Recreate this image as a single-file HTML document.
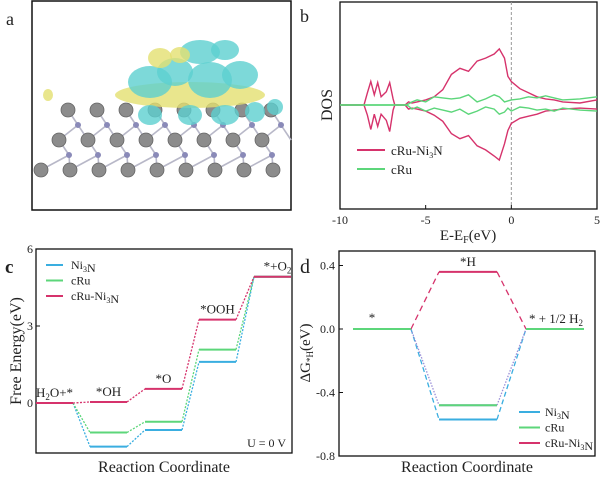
<!DOCTYPE html>
<html><head><meta charset="utf-8"><style>
body{margin:0;background:#fff;width:600px;height:477px;overflow:hidden;font-family:"Liberation Serif",serif}
svg text{font-family:"Liberation Serif",serif;fill:#222}
</style></head><body>
<svg id="fig" width="600" height="477" viewBox="0 0 600 477">
<g>
<text x="6" y="25" font-size="18">a</text>
<rect x="32" y="1" width="259" height="209" fill="#fff" stroke="#111" stroke-width="1.5"/>
<g id="struct"></g>
</g>
<g>
<text x="300" y="22" font-size="18">b</text>
<rect x="340" y="2" width="257" height="207" fill="none" stroke="#111" stroke-width="1.3"/>
<g id="dos"></g>
<text x="0" y="0" font-size="16" transform="translate(332,105) rotate(-90)" text-anchor="middle">DOS</text>
<text x="468" y="240" font-size="15" text-anchor="middle">E-E<tspan font-size="10" dy="3">F</tspan><tspan dy="-3">(eV)</tspan></text>
<line x1="357" y1="150" x2="385" y2="150" stroke="#d6336c" stroke-width="2"/>
<text x="391" y="155" font-size="13">cRu-Ni<tspan font-size="8" dy="3">3</tspan><tspan dy="-3">N</tspan></text>
<line x1="357" y1="169" x2="385" y2="169" stroke="#5cd67a" stroke-width="2"/>
<text x="391" y="174" font-size="13">cRu</text>
</g>
<g>
<rect x="36" y="249" width="256" height="204" fill="none" stroke="#111" stroke-width="1.3"/>
<text x="5" y="273" font-size="19" font-weight="bold">c</text>
<g id="oer"></g>
<text x="0" y="0" font-size="16" transform="translate(21,351) rotate(-90)" text-anchor="middle">Free Energy(eV)</text>
<text x="164" y="472" font-size="16" text-anchor="middle">Reaction Coordinate</text>
<text x="286" y="447" font-size="12" text-anchor="end">U = 0 V</text>
</g>
<g>
<rect x="339" y="251" width="256" height="205" fill="none" stroke="#111" stroke-width="1.3"/>
<text x="300" y="273" font-size="20">d</text>
<g id="her"></g>
<text x="0" y="0" font-size="15" transform="translate(310,353) rotate(-90)" text-anchor="middle">ΔG<tspan font-size="9" dy="3">*H</tspan><tspan dy="-3">(eV)</tspan></text>
<text x="467" y="472" font-size="16" text-anchor="middle">Reaction Coordinate</text>
</g>
</svg>
<script>
// ---------- DOS data (panel b) ----------
const dosEnergy = [-10,-8.6,-8.4,-8.2,-8.0,-7.8,-7.6,-7.3,-7.1,-6.9,-6.8,-6.2,-6.0,-5.8,-5.5,-5.0,-4.5,-4.0,-3.5,-3.0,-2.5,-2.0,-1.5,-1.0,-0.7,-0.4,-0.2,0,0.5,1.0,1.5,2.0,2.5,3.0,4.0,5.0];
const dosRedUp   = [0,0,1.2,2.3,1.0,2.2,0.8,1.3,2.2,0.6,0,0,0.3,0.2,0.3,0.5,0.8,1.5,3.0,3.6,3.3,4.3,4.6,5.0,5.5,4.6,2.8,2.3,1.6,1.2,0.8,0.6,0.5,0.3,0.2,0.5];
const dosRedDown = [0,0,1.0,2.4,0.9,2.1,0.9,1.5,2.6,0.5,0,0,0.4,0.3,0.4,0.6,1.0,1.6,2.8,3.3,3.0,4.0,4.4,5.0,5.4,3.8,2.5,1.8,1.3,1.1,0.9,0.6,0.5,0.4,0.3,0.4];
const dosGreenUp   = [0,0,0,0,0,0,0,0,0,0,0,0,0.1,0.3,0.5,0.3,0.8,0.7,0.6,0.7,1.0,0.3,0.6,1.0,0.8,0.3,0.4,0.5,0.6,0.8,0.7,0.9,0.7,0.5,0.6,0.8];
const dosGreenDown = [0,0,0,0,0,0,0,0,0,0,0,0,0.1,0.4,0.2,0.6,0.3,0.5,0.7,0.4,0.9,0.6,0.2,0.4,0.9,0.7,0.3,0.6,0.2,0.3,0.5,0.4,0.6,0.3,0.5,0.6];
const dosXTicks = [-10,-5,0,5];
// ---------- OER data (panel c) ----------
const oerSteps = ["H2O+*","*OH","*O","*OOH","*+O2"];
const oerNi3N = [0,-1.7,-1.05,1.6,4.92];
const oerCRu = [0,-1.15,-0.73,2.08,4.92];
const oerCRuNi3N = [0,0.04,0.55,3.25,4.92];
const oerYTicks = [0,3,6];
// ---------- HER data (panel d) ----------
const herSteps = ["*","*H","* + 1/2 H2"];
const herNi3N = [0,-0.57,0];
const herCRu = [0,-0.48,0];
const herCRuNi3N = [0,0.36,0];
const herYTicks = [0.4,0.0,-0.4,-0.8];

const NS="http://www.w3.org/2000/svg";
function mk(parent,tag,attrs){const e=document.createElementNS(NS,tag);for(const k in attrs)e.setAttribute(k,attrs[k]);parent.appendChild(e);return e;}

// ----- panel b -----
const dos=document.getElementById('dos');
const xB=e=>340+(e+10)/15*257;
const yB=v=>105-v*10.2;
let zx=xB(0);
let zl=mk(dos,'line',{x1:zx,y1:2,x2:zx,y2:209,stroke:'#999','stroke-dasharray':'3,2','stroke-width':1});


function dosLine(vals,sign,color,name){
  let d='';
  dosEnergy.forEach((e,i)=>{d+=(i?'L':'M')+xB(e).toFixed(1)+','+yB(sign*vals[i]).toFixed(1);});
  const p=mk(dos,'path',{d:d,fill:'none',stroke:color,'stroke-width':1.4});
  
  
}
dosLine(dosRedUp,1,'#d6336c','dos-cru-ni3n-spin-up');
dosLine(dosRedDown,-1,'#d6336c','dos-cru-ni3n-spin-down');
dosLine(dosGreenUp,1,'#5cd67a','dos-cru-spin-up');
dosLine(dosGreenDown,-1,'#5cd67a','dos-cru-spin-down');
dosXTicks.forEach(t=>{
  const x=xB(t);
  const tk=mk(dos,'line',{x1:x,y1:209,x2:x,y2:205,stroke:'#111'});
  
  
  const tx=mk(dos,'text',{x:x,y:224,'font-size':12,'text-anchor':'middle'});
  tx.textContent=t;
  
  
});

// ----- panel c -----
const oer=document.getElementById('oer');
const yC=v=>403-v*25.67;
const cx0=[36,90,145,199,254], cw=37;
oerYTicks.forEach(t=>{
  const y=yC(t);
  const tk=mk(oer,'line',{x1:36,y1:y,x2:40,y2:y,stroke:'#111'});
  
  
  const tx=mk(oer,'text',{x:33,y:y+4,'font-size':12,'text-anchor':'end'});
  tx.textContent=t;
  
  
});
function oerSeries(vals,color,name){
  vals.forEach((v,i)=>{
    const y=yC(v);
    const l=mk(oer,'line',{x1:cx0[i],y1:y,x2:cx0[i]+cw,y2:y,stroke:color,'stroke-width':2});
    
    
    if(i<vals.length-1){
      const c=mk(oer,'line',{x1:cx0[i]+cw,y1:y,x2:cx0[i+1],y2:yC(vals[i+1]),stroke:color,'stroke-width':1.3,'stroke-dasharray':'2,1.5'});
      
      
    }
  });
}
oerSeries(oerNi3N,'#3aaee0','oer-ni3n');
oerSeries(oerCRu,'#5cd67a','oer-cru');
oerSeries(oerCRuNi3N,'#d6336c','oer-cru-ni3n');
const oerLabelHtml=['H<tspan font-size="9" dy="3">2</tspan><tspan dy="-3">O+*</tspan>','*OH','*O','*OOH','*+O<tspan font-size="9" dy="3">2</tspan>'];
oerLabelHtml.forEach((h,i)=>{
  const tx=mk(oer,'text',{x:cx0[i]+cw/2+(i==4?5:0),y:yC(oerCRuNi3N[i])-6,'font-size':13,'text-anchor':'middle'});
  tx.innerHTML=h;
  
  
});
[['#3aaee0','Ni3N'],['#5cd67a','cRu'],['#d6336c','cRu-Ni3N']].forEach((s,i)=>{
  const y=265+i*15.5;
  const l=mk(oer,'line',{x1:46,y1:y,x2:63,y2:y,stroke:s[0],'stroke-width':2});
  
  
  const tx=mk(oer,'text',{x:71,y:y+4,'font-size':12});
  tx.innerHTML=s[1].replace('3','<tspan font-size="8" dy="3">3</tspan><tspan dy="-3"></tspan>');
  
  
});

// ----- panel d -----
const her=document.getElementById('her');
const yD=v=>329-v*158.75;
const dx0=[353,439,526], dw=58;
herYTicks.forEach(t=>{
  const y=yD(t);
  const tk=mk(her,'line',{x1:339,y1:y,x2:343,y2:y,stroke:'#111'});
  
  
  const tx=mk(her,'text',{x:335,y:y+4,'font-size':12,'text-anchor':'end'});
  tx.textContent=t.toFixed(1);
  
  
});
function herSeries(vals,color,name,dash){
  vals.forEach((v,i)=>{
    const y=yD(v);
    const l=mk(her,'line',{x1:dx0[i],y1:y,x2:dx0[i]+dw,y2:y,stroke:color,'stroke-width':2});
    
    
    if(i<vals.length-1){
      const c=mk(her,'line',{x1:dx0[i]+dw,y1:y,x2:dx0[i+1],y2:yD(vals[i+1]),stroke:color,'stroke-width':1.3,'stroke-dasharray':dash});
      
      
    }
  });
}
herSeries(herNi3N,'#3aaee0','her-ni3n','5,3');
herSeries(herCRu,'#9a8fd8','her-cru','1.5,1.5');
herSeries(herCRuNi3N,'#d6336c','her-cru-ni3n','6,4');
herCRu.forEach((v,i)=>{const l=mk(her,'line',{x1:dx0[i],y1:yD(v),x2:dx0[i]+dw,y2:yD(v),stroke:'#5cd67a','stroke-width':2});

});
const herLab=[[dx0[0]+dw/2-10,yD(0)-7,'*'],[dx0[1]+dw/2,yD(herCRuNi3N[1])-6,'*H'],[dx0[2]+30,yD(0)-6,'* + 1/2 H<tspan font-size="9" dy="3">2</tspan>']];
herLab.forEach(a=>{const tx=mk(her,'text',{x:a[0],y:a[1],'font-size':13,'text-anchor':'middle'});tx.innerHTML=a[2];

});
[['#3aaee0','Ni3N'],['#5cd67a','cRu'],['#d6336c','cRu-Ni3N']].forEach((s,i)=>{
  const y=412+i*15.5;
  const l=mk(her,'line',{x1:519,y1:y,x2:540,y2:y,stroke:s[0],'stroke-width':2});
  
  
  const tx=mk(her,'text',{x:545,y:y+4,'font-size':12});
  tx.innerHTML=s[1].replace('3','<tspan font-size="8" dy="3">3</tspan><tspan dy="-3"></tspan>');
  
  
});

// ----- panel a structure -----
const st=document.getElementById('struct');
// lattice bonds and atoms
const rowsY=[110,140,170], rowsX=[68,59,41];
for(let r=0;r<3;r++){
  for(let k=0;k<9;k++){
    const xx=rowsX[r]+k*29, yy=rowsY[r];
    if(xx>285) continue;
    if(r<2){
      const nx=xx+10, ny=yy+15;
      const b1=mk(st,'line',{x1:xx,y1:yy,x2:nx,y2:ny,stroke:'#b8b8c8','stroke-width':1.6});
      
      
      const b2=mk(st,'line',{x1:nx,y1:ny,x2:rowsX[r+1]+k*29+(r==0?0:0),y2:rowsY[r+1],stroke:'#b8b8c8','stroke-width':1.6});
      
      
      const b3=mk(st,'line',{x1:nx,y1:ny,x2:rowsX[r+1]+(k+1)*29,y2:rowsY[r+1],stroke:'#b8b8c8','stroke-width':1.6});
      
      
    }
  }
}
for(let r=0;r<3;r++){
  for(let k=0;k<9;k++){
    const xx=rowsX[r]+k*29, yy=rowsY[r];
    if(xx>285) continue;
    if(r<2){const n=mk(st,'circle',{cx:xx+10,cy:yy+15,r:3,fill:'#8a8ab8'});
    
    }
    const c=mk(st,'circle',{cx:xx,cy:yy,r:7,fill:'#8c8c8c',stroke:'#666','stroke-width':0.8});
    
    
  }
}
const blobs=[[190,95,75,13,'#e3e070'],[150,82,22,16,'#5cd0d0'],[175,72,18,14,'#5cd0d0'],[210,80,22,18,'#5cd0d0'],[240,75,18,14,'#5cd0d0'],[160,58,12,10,'#e3e070'],[200,52,20,12,'#5cd0d0'],[225,50,14,10,'#5cd0d0'],[180,55,10,8,'#e3e070'],[150,115,12,10,'#5cd0d0'],[190,115,12,10,'#5cd0d0'],[225,115,14,10,'#5cd0d0'],[255,112,10,10,'#5cd0d0'],[48,95,5,6,'#e3e070'],[275,107,8,8,'#5cd0d0']];
blobs.forEach(b=>{const e=mk(st,'ellipse',{cx:b[0],cy:b[1],rx:b[2],ry:b[3],fill:b[4],opacity:0.8});

});
</script>
</body></html>
